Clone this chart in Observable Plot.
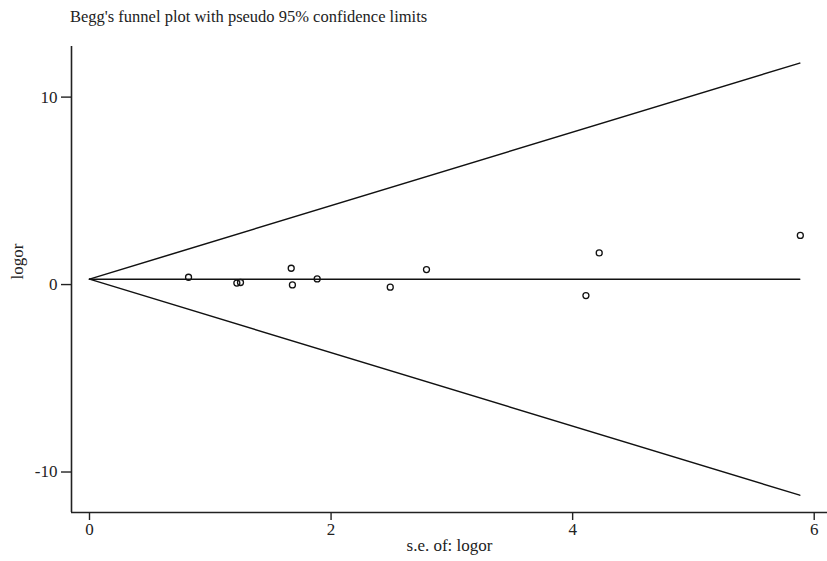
<!DOCTYPE html>
<html>
<head>
<meta charset="utf-8">
<script src="https://cdn.jsdelivr.net/npm/d3@7"></script>
<script src="https://cdn.jsdelivr.net/npm/@observablehq/plot@0.6"></script>
<style>
  html, body { margin: 0; padding: 0; background: #fff; }
  #title { height: 40px; box-sizing: border-box; padding: 7px 0 0 70px; font-family: "Liberation Serif", "Times New Roman", serif; font-size: 16.5px; color: #222; }
  #chart svg { display: block; }
</style>
</head>
<body>
<div id="title">Begg's funnel plot with pseudo 95% confidence limits</div>
<div id="chart"></div>
<script>
// Study standard errors and log odds ratios
const se     = [0.82, 1.22, 1.25, 1.67, 1.68, 1.885, 2.49, 2.79, 4.11, 4.22, 5.885];
const logor  = [0.39, 0.08, 0.11, 0.87, -0.02, 0.30, -0.14, 0.80, -0.59, 1.69, 2.62];
// Pooled estimate and range of the pseudo-confidence funnel
const pooled = [0.29];
const funnelSe = [0, 5.88];
const xTicks = [0, 2, 4, 6];
const yTicks = [-10, 0, 10];

const points = se.map((s, i) => ({se: s, logor: logor[i]}));
const upper = funnelSe.map(s => ({se: s, v: pooled[0] + 1.96 * s}));
const lower = funnelSe.map(s => ({se: s, v: pooled[0] - 1.96 * s}));
const center = funnelSe.map(s => ({se: s, v: pooled[0]}));

const xDomain = [-0.149, 6.11];
const yDomain = [-12.16, 12.7];
const fmt = d => String(d);

const chart = Plot.plot({
  width: 827,
  height: 521,
  marginLeft: 71,
  marginRight: 0,
  marginTop: 6,
  marginBottom: 49,
  style: {fontFamily: "'Liberation Serif', 'Times New Roman', serif", fontSize: "17px", color: "#222", background: "#fff"},
  x: {domain: xDomain, label: null},
  y: {domain: yDomain, label: null},
  marks: [
    Plot.ruleX([xDomain[0]], {stroke: "#222", strokeWidth: 1.6}),
    Plot.ruleY([yDomain[0]], {stroke: "#222", strokeWidth: 1.6}),
    Plot.axisX({ticks: xTicks, tickFormat: fmt, tickSize: 8, tickPadding: 2, stroke: "#222", strokeWidth: 1.4, fontSize: 17, label: null}),
    Plot.axisY({ticks: yTicks, tickFormat: fmt, tickSize: 10, tickPadding: 4, stroke: "#222", strokeWidth: 1.4, fontSize: 17, label: null}),
    Plot.text(["s.e. of: logor"], {frameAnchor: "bottom", dy: 38, fontSize: 17, fill: "#222"}),
    Plot.text(["logor"], {frameAnchor: "left", dx: -54, rotate: -90, fontSize: 17, fill: "#222"}),
    Plot.line(upper, {x: "se", y: "v", stroke: "#111", strokeWidth: 1.5}),
    Plot.line(lower, {x: "se", y: "v", stroke: "#111", strokeWidth: 1.5}),
    Plot.line(center, {x: "se", y: "v", stroke: "#111", strokeWidth: 1.5}),
    Plot.dot(points, {x: "se", y: "logor", r: 3, stroke: "#111", strokeWidth: 1.3, fill: "none"})
  ]
});
document.getElementById("chart").appendChild(chart);
</script>
</body>
</html>
